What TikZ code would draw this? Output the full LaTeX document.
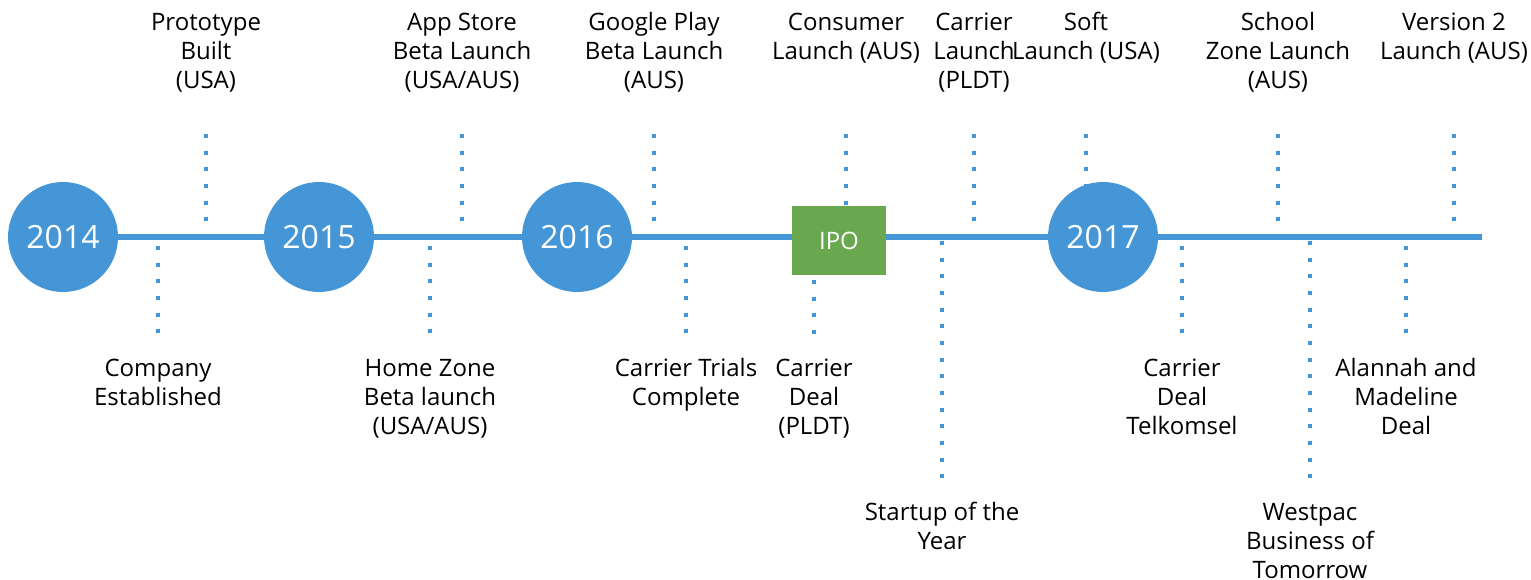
\documentclass[tikz,border=0pt]{standalone}
\usepackage{fontspec}
\setmainfont{Open Sans}
\usetikzlibrary{backgrounds}
\definecolor{tlblue}{RGB}{69,150,215}
\definecolor{ipogreen}{RGB}{106,168,79}
\begin{document}
\begin{tikzpicture}[x=1pt,y=-1pt,
  year/.style={circle, fill=tlblue, minimum size=110pt, inner sep=0pt,
    text=white, font=\fontsize{32}{38}\selectfont},
  ipobox/.style={rectangle, fill=ipogreen, minimum width=94pt,
    minimum height=69pt, inner sep=0pt, text=white,
    font=\fontsize{24}{28}\selectfont},
  % anchored at the baseline of the last line
  event/.style={align=center, inner sep=0pt, anchor=base,
    font=\fontsize{24}{29}\selectfont},
  tick/.style={tlblue, line width=4pt, dash pattern=on 4pt off 12.667pt},
  axis/.style={tlblue, line width=6pt}]
\useasboundingbox (0,0) rectangle (1531,579);

% year markers and the IPO box on the axis
\node[year] (y2014) at (63,237) {2014};
\node[year] (y2015) at (319,237) {2015};
\node[year] (y2016) at (577,237) {2016};
\node[ipobox] (ipo) at (839,240.5) {IPO};
\node[year] (y2017) at (1103,237) {2017};
\coordinate (axisend) at (1482,237);

% events above the axis
\node[event] (proto)      at (206,88)  {Prototype\\Built\\(USA)};
\node[event] (appstore)   at (462,88)  {App Store\\Beta Launch\\(USA/AUS)};
\node[event] (gplay)      at (654,88)  {Google Play\\Beta Launch\\(AUS)};
\node[event] (consumer)   at (846,59)  {Consumer\\Launch (AUS)};
\node[event] (carrlaunch) at (974,88)  {Carrier\\Launch\\(PLDT)};
\node[event] (soft)       at (1086,59) {Soft\\Launch (USA)};
\node[event] (school)     at (1278,88) {School\\Zone Launch\\(AUS)};
\node[event] (version)    at (1454,59) {Version 2\\Launch (AUS)};

% events below the axis
\node[event] (company)   at (158,405)  {Company\\Established};
\node[event] (homezone)  at (430,434)  {Home Zone\\Beta launch\\(USA/AUS)};
\node[event] (trials)    at (686,405)  {Carrier Trials\\Complete};
\node[event] (pldt)      at (814,434)  {Carrier\\Deal\\(PLDT)};
\node[event] (startup)   at (942,549)  {Startup of the\\Year};
\node[event] (telkomsel) at (1182,434) {Carrier\\Deal\\Telkomsel};
\node[event] (westpac)   at (1310,578) {Westpac\\Business of\\Tomorrow};
\node[event] (alannah)   at (1406,434) {Alannah and\\Madeline\\Deal};

% end points of the dotted ticks
\foreach \n/\x in {proto/206, appstore/462, gplay/654, consumer/846,
                   carrlaunch/974, soft/1086, school/1278, version/1454} {
  \coordinate (\n-a) at (\x,134);
  \coordinate (\n-b) at (\x,238);
}
\foreach \n/\x in {company/158, homezone/430, trials/686,
                   telkomsel/1182, alannah/1406} {
  \coordinate (\n-a) at (\x,246);
  \coordinate (\n-b) at (\x,334);
}
\coordinate (pldt-a) at (814,280);
\coordinate (pldt-b) at (814,334);
\coordinate (startup-a) at (942,241);
\coordinate (startup-b) at (942,478);
\coordinate (westpac-a) at (1310,241);
\coordinate (westpac-b) at (1310,478);

\begin{pgfonlayer}{background}
  \foreach \n in {proto, appstore, gplay, consumer, carrlaunch, soft, school,
                  version, company, homezone, trials, pldt, startup,
                  telkomsel, westpac, alannah}
    \draw[tick] (\n-a) -- (\n-b);
  \draw[axis] (y2014.center) -- (axisend);
\end{pgfonlayer}
\end{tikzpicture}
\end{document}
